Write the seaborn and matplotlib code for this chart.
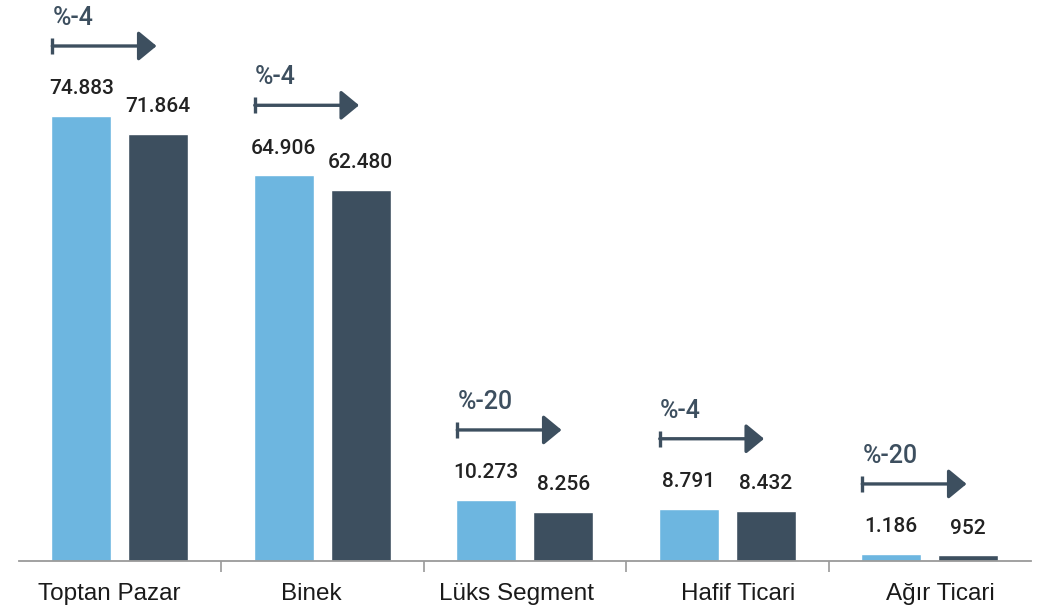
import matplotlib
matplotlib.use("Agg")
import matplotlib.pyplot as plt
from matplotlib.transforms import offset_copy, ScaledTranslation
import seaborn as sns
import pandas as pd

categories = ["Toptan Pazar", "Binek", "Lüks Segment", "Hafif Ticari", "Ağır Ticari"]
series_names = ["2023", "2024"]
values_prev = [74883, 64906, 10273, 8791, 1186]
values_curr = [71864, 62480, 8256, 8432, 952]

light = "#6db6e0"
dark = "#3d4f5f"

df = pd.DataFrame({
    "kategori": categories * 2,
    "donem": [series_names[0]] * len(categories) + [series_names[1]] * len(categories),
    "adet": values_prev + values_curr,
})

sns.set_theme(style="white")
plt.rcParams["font.family"] = ["Liberation Sans", "DejaVu Sans"]

W, H, DPI = 1045, 607, 100
fig = plt.figure(figsize=(W / DPI, H / DPI), dpi=DPI)
ax_left, ax_right, ax_bottom = 18.5, 1031, 561
ax = fig.add_axes([ax_left / W, (H - ax_bottom) / H, (ax_right - ax_left) / W, ax_bottom / H])

sns.barplot(data=df, x="kategori", y="adet", hue="donem", order=categories,
            hue_order=series_names, palette=[light, dark], width=0.76, gap=0.22,
            saturation=1, legend=False, ax=ax)

px_per_unit = 445 / 74883
ax.set_xlim(-0.5, len(categories) - 0.5)
ax.set_ylim(0, ax_bottom / px_per_unit)

for s in ["top", "right", "left"]:
    ax.spines[s].set_visible(False)
ax.spines["bottom"].set_color("#9a9a9a")
ax.spines["bottom"].set_linewidth(1.3)
ax.set_yticks([])
ax.set_xlabel("")
ax.set_ylabel("")
ax.set_xticks(range(len(categories)))
ax.set_xticklabels(categories, fontsize=17.5, color="#1a1a1a", fontfamily=["Liberation Sans", "DejaVu Sans"])
ax.tick_params(axis="x", which="major", length=0, pad=16)
ax.set_xticks([i + 0.5 for i in range(len(categories) - 1)], minor=True)
ax.tick_params(axis="x", which="minor", length=8, width=1.2, color="#9a9a9a", bottom=True)

# small horizontal nudges of the category labels (pixels)
label_nudge = [-10, -11, -8, 11, 11]
for lab, dx in zip(ax.get_xticklabels(), label_nudge):
    lab.set_transform(lab.get_transform() + ScaledTranslation(dx / DPI, 0, fig.dpi_scale_trans))

num_font = ["Roboto", "DejaVu Sans"]
fmt = lambda v: f"{v:,}".replace(",", ".")

for container in ax.containers:
    for bar in container:
        v = bar.get_height()
        ax.annotate(fmt(int(round(v))), (bar.get_x() + bar.get_width() / 2, v),
                    xytext=(0, 19.5), textcoords="offset points", ha="center", va="center",
                    fontsize=15, fontweight="medium", color="#222222",
                    fontfamily=num_font, annotation_clip=False)

arrow_len = 0.515
prev_bars = ax.containers[0]
for i, bar in enumerate(prev_bars):
    prev, curr = values_prev[i], values_curr[i]
    pct = round((curr - prev) / prev * 100)
    x0 = bar.get_x() + 0.005
    top = bar.get_height()
    t_arrow = offset_copy(ax.transData, fig=fig, x=0, y=70, units="dots")
    ax.annotate("", xy=(x0 + arrow_len, top), xycoords=t_arrow,
                xytext=(x0, top), textcoords=t_arrow,
                arrowprops=dict(arrowstyle="-|>,head_length=0.85,head_width=0.7",
                                mutation_scale=13, color=dark, lw=2.4,
                                shrinkA=0, shrinkB=0),
                annotation_clip=False)
    ax.plot([x0], [top], marker="|", ms=12, mew=2.4, color=dark,
            transform=t_arrow, clip_on=False)
    t_text = offset_copy(ax.transData, fig=fig, x=0, y=98, units="dots")
    ax.text(x0, top, f"%{pct}", transform=t_text, ha="left", va="center",
            fontsize=18, fontweight="medium", color=dark, fontfamily=num_font, clip_on=False)

fig.savefig("out.png", dpi=DPI, facecolor="white")
